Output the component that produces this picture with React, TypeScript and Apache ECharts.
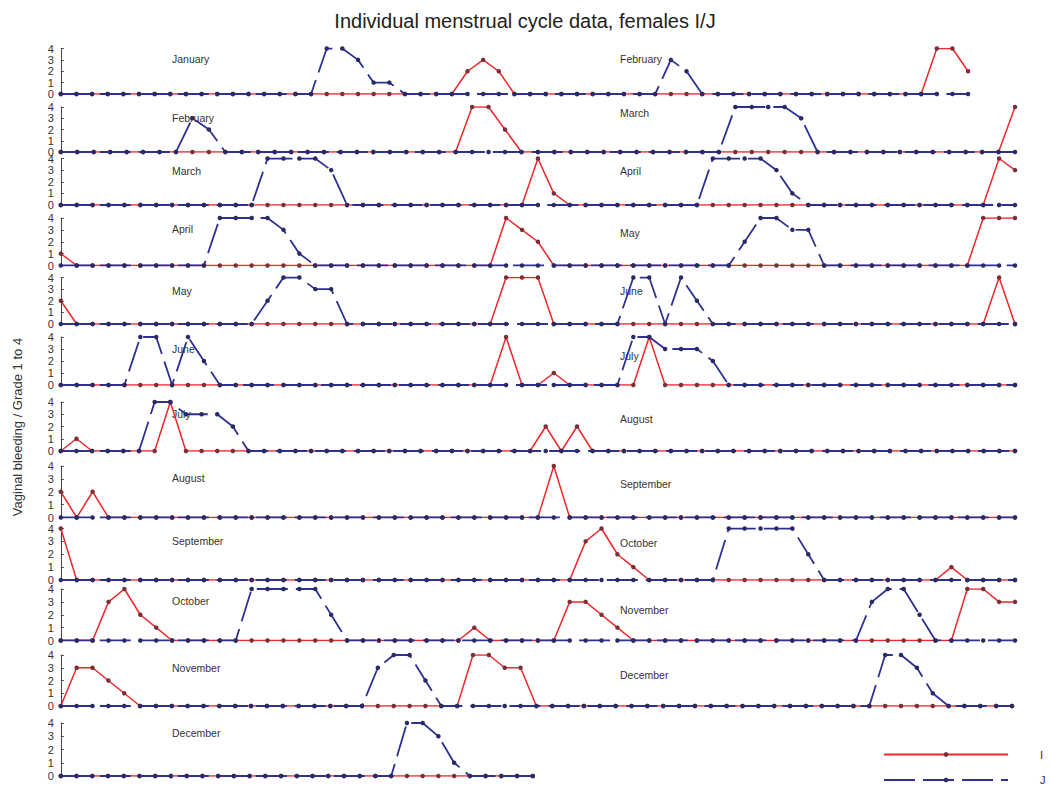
import React, { useEffect, useRef } from 'react';
import * as echarts from 'echarts';

// ---------- data ----------
const leftMonths = ['January', 'February', 'March', 'April', 'May', 'June', 'July', 'August', 'September', 'October', 'November', 'December'];
const rightMonths = ['February', 'March', 'April', 'May', 'June', 'July', 'August', 'September', 'October', 'November', 'December', ''];
const slotCounts = [62, 59, 61, 61, 61, 61, 62, 61, 61, 61, 61, 31];
const yTicks = [0, 1, 2, 3, 4];

const i1 = [
  0,0,0,0,0,0,0,0,0,0, 0,0,0,0,0,0,0,0,0,0, 0,0,0,0,0,0,2,3,2,0,
  0,0,0,0,0,0,0,0,0,0, 0,0,0,0,0,0,0,0,0,0, 0,0,0,0,0,0,4,4,2];
const j1 = [
  0,0,0,0,0,0,0,0,0,0, 0,0,0,0,0,0,0,4,4,3, 1,1,0,0,0,0,0,0,0,0,
  0,0,0,0,0,0,0,0,0,3, 2,0,0,0,0,0,0,0,0,0, 0,0,0,0,0,0,0,0,0];
const i2 = [
  0,0,0,0,0,0,0,0,0,0, 0,0,0,0,0,0,0,0,0,0, 0,0,0,0,0,4,4,2,0,0,
  0,0,0,0,0,0,0,0,0,0, 0,0,0,0,0,0,0,0,0,0, 0,0,0,0,0,0,0,0,4];
const j2 = [
  0,0,0,0,0,0,0,0,3,2, 0,0,0,0,0,0,0,0,0,0, 0,0,0,0,0,0,0,0,0,0,
  0,0,0,0,0,0,0,0,0,0, 0,4,4,4,4,3,0,0,0,0, 0,0,0,0,0,0,0,0,0];
const i3 = [
  0,0,0,0,0,0,0,0,0,0, 0,0,0,0,0,0,0,0,0,0, 0,0,0,0,0,0,0,0,0,0,
  4,1,0,0,0,0,0,0,0,0, 0,0,0,0,0,0,0,0,0,0, 0,0,0,0,0,0,0,0,0,4, 3];
const j3 = [
  0,0,0,0,0,0,0,0,0,0, 0,0,0,4,4,4,4,3,0,0, 0,0,0,0,0,0,0,0,0,0,
  0,0,0,0,0,0,0,0,0,0, 0,4,4,4,4,3,1,0,0,0, 0,0,0,0,0,0,0,0,0,0, 0];
const i4 = [
  1,0,0,0,0,0,0,0,0,0, 0,0,0,0,0,0,0,0,0,0, 0,0,0,0,0,0,0,0,4,3,
  2,0,0,0,0,0,0,0,0,0, 0,0,0,0,0,0,0,0,0,0, 0,0,0,0,0,0,0,0,4,4, 4];
const j4 = [
  0,0,0,0,0,0,0,0,0,0, 4,4,4,4,3,1,0,0,0,0, 0,0,0,0,0,0,0,0,0,0,
  0,0,0,0,0,0,0,0,0,0, 0,0,0,2,4,4,3,3,0,0, 0,0,0,0,0,0,0,0,0,0, 0];
const i5 = [
  2,0,0,0,0,0,0,0,0,0, 0,0,0,0,0,0,0,0,0,0, 0,0,0,0,0,0,0,0,4,4,
  4,0,0,0,0,0,0,0,0,0, 0,0,0,0,0,0,0,0,0,0, 0,0,0,0,0,0,0,0,0,4, 0];
const j5 = [
  0,0,0,0,0,0,0,0,0,0, 0,0,0,2,4,4,3,3,0,0, 0,0,0,0,0,0,0,0,0,0,
  0,0,0,0,0,0,4,4,0,4, 2,0,0,0,0,0,0,0,0,0, 0,0,0,0,0,0,0,0,0,0, 0];
const i6 = [
  0,0,0,0,0,0,0,0,0,0, 0,0,0,0,0,0,0,0,0,0, 0,0,0,0,0,0,0,0,4,0,
  0,1,0,0,0,0,0,4,0,0, 0,0,0,0,0,0,0,0,0,0, 0,0,0,0,0,0,0,0,0,0, 0];
const j6 = [
  0,0,0,0,0,4,4,0,4,2, 0,0,0,0,0,0,0,0,0,0, 0,0,0,0,0,0,0,0,0,0,
  0,0,0,0,0,0,4,4,3,3, 3,2,0,0,0,0,0,0,0,0, 0,0,0,0,0,0,0,0,0,0, 0];
const i7 = [
  0,1,0,0,0,0,0,4,0,0, 0,0,0,0,0,0,0,0,0,0, 0,0,0,0,0,0,0,0,0,0,
  0,2,0,2,0,0,0,0,0,0, 0,0,0,0,0,0,0,0,0,0, 0,0,0,0,0,0,0,0,0,0, 0,0];
const j7 = [
  0,0,0,0,0,0,4,4,3,3, 3,2,0,0,0,0,0,0,0,0, 0,0,0,0,0,0,0,0,0,0,
  0,0,0,0,0,0,0,0,0,0, 0,0,0,0,0,0,0,0,0,0, 0,0,0,0,0,0,0,0,0,0, 0,0];
const i8 = [
  2,0,2,0,0,0,0,0,0,0, 0,0,0,0,0,0,0,0,0,0, 0,0,0,0,0,0,0,0,0,0,
  0,4,0,0,0,0,0,0,0,0, 0,0,0,0,0,0,0,0,0,0, 0,0,0,0,0,0,0,0,0,0, 0];
const j8 = [
  0,0,0,0,0,0,0,0,0,0, 0,0,0,0,0,0,0,0,0,0, 0,0,0,0,0,0,0,0,0,0,
  0,0,0,0,0,0,0,0,0,0, 0,0,0,0,0,0,0,0,0,0, 0,0,0,0,0,0,0,0,0,0, 0];
const i9 = [
  4,0,0,0,0,0,0,0,0,0, 0,0,0,0,0,0,0,0,0,0, 0,0,0,0,0,0,0,0,0,0,
  0,0,0,3,4,2,1,0,0,0, 0,0,0,0,0,0,0,0,0,0, 0,0,0,0,0,0,1,0,0,0, 0];
const j9 = [
  0,0,0,0,0,0,0,0,0,0, 0,0,0,0,0,0,0,0,0,0, 0,0,0,0,0,0,0,0,0,0,
  0,0,0,0,0,0,0,0,0,0, 0,0,4,4,4,4,4,2,0,0, 0,0,0,0,0,0,0,0,0,0, 0];
const i10 = [
  0,0,0,3,4,2,1,0,0,0, 0,0,0,0,0,0,0,0,0,0, 0,0,0,0,0,0,1,0,0,0,
  0,0,3,3,2,1,0,0,0,0, 0,0,0,0,0,0,0,0,0,0, 0,0,0,0,0,0,0,4,4,3, 3];
const j10 = [
  0,0,0,0,0,0,0,0,0,0, 0,0,4,4,4,4,4,2,0,0, 0,0,0,0,0,0,0,0,0,0,
  0,0,0,0,0,0,0,0,0,0, 0,0,0,0,0,0,0,0,0,0, 0,3,4,4,2,0,0,0,0,0, 0];
const i11 = [
  0,3,3,2,1,0,0,0,0,0, 0,0,0,0,0,0,0,0,0,0, 0,0,0,0,0,0,4,4,3,3,
  0,0,0,0,0,0,0,0,0,0, 0,0,0,0,0,0,0,0,0,0, 0,0,0,0,0,0,0,0,0,0, 0];
const j11 = [
  0,0,0,0,0,0,0,0,0,0, 0,0,0,0,0,0,0,0,0,0, 3,4,4,2,0,0,0,0,0,0,
  0,0,0,0,0,0,0,0,0,0, 0,0,0,0,0,0,0,0,0,0, 0,0,4,4,3,1,0,0,0,0, 0];
const i12 = [
  0,0,0,0,0,0,0,0,0,0, 0,0,0,0,0,0,0,0,0,0, 0,0,0,0,0,0,0,0,0,0, 0];
const j12 = [
  0,0,0,0,0,0,0,0,0,0, 0,0,0,0,0,0,0,0,0,0, 0,0,4,4,3,1,0,0,0,0, 0];

const I_ROWS = [i1, i2, i3, i4, i5, i6, i7, i8, i9, i10, i11, i12];
const J_ROWS = [j1, j2, j3, j4, j5, j6, j7, j8, j9, j10, j11, j12];

// ---------- layout ----------
const GRID_LEFT = 60.8;
const rowTop = [48.5, 107, 158.5, 218, 277.5, 337, 402, 466, 528.5, 589, 655, 723];
const rowBottom = [94, 152, 205, 265.5, 324, 385, 451, 517.5, 580, 640.5, 706, 776];
const rowRight = [1015, 1015, 1015, 1015, 1015, 1015, 1015, 1015, 1015, 1015, 1012, 532.8];
const leftLabelY = [58.5, 117.5, 170.5, 229, 290.5, 349, 413.5, 477.5, 541, 601, 667.5, 733];
const rightLabelY = [58.5, 112.5, 170.5, 232.5, 291, 356, 419, 484, 542.5, 610, 675, 0];

const FONT = '"Liberation Sans", Arial, Helvetica, sans-serif';
const RED = '#f0262b';
const RED_DOT = '#7a3038';
const BLUE = '#2e3192';
const BLUE_DOT = '#2a2b62';
const TEXT = '#333333';

export default function App() {
  const ref = useRef<HTMLDivElement>(null);

  useEffect(() => {
    if (!ref.current) return;
    const chart = echarts.init(ref.current, null, { renderer: 'svg' });

    const grid = rowTop.map((t, r) => ({
      left: GRID_LEFT,
      top: t,
      width: rowRight[r] - GRID_LEFT,
      height: rowBottom[r] - t,
    }));

    const xAxis = slotCounts.map((n, r) => ({
      type: 'category',
      gridIndex: r,
      data: Array.from({ length: n }, (_, k) => String(k + 1)),
      boundaryGap: false,
      show: false,
    }));

    const yAxis = slotCounts.map((_, r) => ({
      type: 'value',
      gridIndex: r,
      min: yTicks[0],
      max: yTicks[yTicks.length - 1],
      interval: 1,
      axisLine: { show: true, lineStyle: { color: '#444', width: 1 } },
      axisTick: { show: true, inside: true, length: 3, lineStyle: { color: '#444' } },
      axisLabel: { fontSize: 11, color: TEXT, margin: 7, fontFamily: FONT },
      splitLine: { show: false },
    }));

    const series: any[] = [];
    I_ROWS.forEach((d, r) => {
      series.push({
        name: 'I',
        type: 'line',
        xAxisIndex: r,
        yAxisIndex: r,
        data: d,
        symbol: 'circle',
        symbolSize: 4.5,
        showAllSymbol: true,
        lineStyle: { color: RED, width: 1.5 },
        itemStyle: { color: RED_DOT },
        z: 2,
        silent: true,
        emphasis: { disabled: true },
      });
    });
    J_ROWS.forEach((d, r) => {
      series.push({
        name: 'J',
        type: 'line',
        xAxisIndex: r,
        yAxisIndex: r,
        data: d,
        symbol: 'circle',
        symbolSize: 4.5,
        showAllSymbol: true,
        lineStyle: { color: BLUE, width: 1.8, type: [31, 8] },
        itemStyle: { color: BLUE_DOT },
        z: 3,
        silent: true,
        emphasis: { disabled: true },
      });
    });

    const graphic: any[] = [];
    leftMonths.forEach((m, r) => {
      graphic.push({
        type: 'text', x: 172, y: leftLabelY[r], silent: true,
        style: { text: m, fontSize: 10.5, fontFamily: FONT, fill: TEXT, verticalAlign: 'middle', align: 'left' },
      });
    });
    rightMonths.forEach((m, r) => {
      if (!m) return;
      graphic.push({
        type: 'text', x: 620, y: rightLabelY[r], silent: true,
        style: { text: m, fontSize: 10.5, fontFamily: FONT, fill: TEXT, verticalAlign: 'middle', align: 'left' },
      });
    });
    graphic.push({
      type: 'text', x: 17, y: 427, rotation: Math.PI / 2, silent: true,
      style: { text: 'Vaginal bleeding / Grade 1 to 4', fontSize: 13, fontFamily: FONT, fill: TEXT, align: 'center', verticalAlign: 'middle' },
    });

    chart.setOption({
      animation: false,
      backgroundColor: '#ffffff',
      title: {
        text: 'Individual menstrual cycle data, females I/J',
        left: 'center',
        top: 6,
        textStyle: { fontSize: 20, fontWeight: 'normal', color: '#222', fontFamily: FONT },
      },
      legend: {
        data: ['I', 'J'],
        orient: 'vertical',
        left: 883,
        top: 749,
        padding: 0,
        itemWidth: 124,
        itemHeight: 6,
        itemGap: 14.5,
        selectedMode: false,
        textStyle: { fontSize: 11, color: TEXT, fontFamily: FONT, padding: [0, 0, 0, 27] },
      },
      grid,
      xAxis,
      yAxis,
      series,
      graphic,
    });

    return () => chart.dispose();
  }, []);

  return (
    <div
      ref={ref}
      style={{ position: 'fixed', left: 0, top: 0, width: 1050, height: 802, background: '#fff' }}
    />
  );
}
